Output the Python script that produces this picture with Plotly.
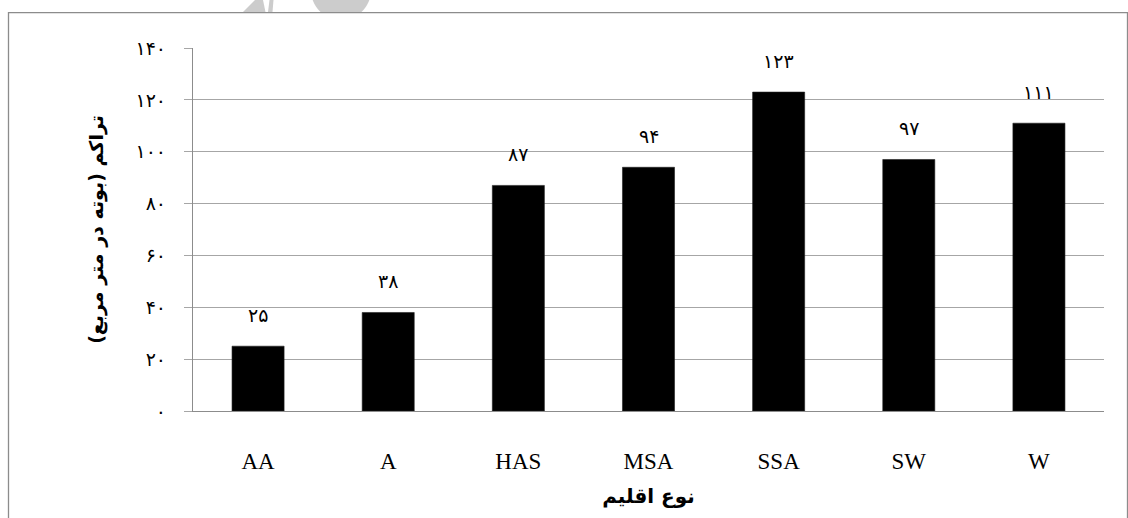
import math
import plotly.graph_objects as go

# Climate types and plant density (plants per square metre)
climates = ["AA", "A", "HAS", "MSA", "SSA", "SW", "W"]
density = [25, 38, 87, 94, 123, 97, 111]
density_labels = ["۲۵", "۳۸", "۸۷", "۹۴", "۱۲۳", "۹۷", "۱۱۱"]

y_tickvals = [0, 20, 40, 60, 80, 100, 120, 140]
y_ticktext = ["۰", "۲۰", "۴۰", "۶۰", "۸۰", "۱۰۰", "۱۲۰", "۱۴۰"]

W, H = 1128, 518
L, R, T, B = 193, 24, 48, 107
PW, PH = W - L - R, H - T - B


def px(x):
    return (x - L) / PW


def py(y):
    return (H - B - y) / PH


fig = go.Figure()
fig.add_trace(go.Bar(
    x=climates,
    y=density,
    marker=dict(color="#000000", line=dict(color="#202020", width=0.6)),
    width=0.4,
    hoverinfo="skip",
))

for c, v, t in zip(climates, density, density_labels):
    fig.add_annotation(
        x=c, y=v, text=t, showarrow=False, yshift=31, yanchor="middle",
        font=dict(family="DejaVu Sans", size=19, color="#000000"),
    )

shapes = []
# outer frame
shapes.append(dict(
    type="rect", xref="paper", yref="paper",
    x0=px(8.5), x1=px(1127.5), y0=py(540), y1=py(12.7),
    line=dict(color="#8c8c8c", width=1.3), fillcolor="rgba(0,0,0,0)",
    layer="below",
))
# faded logo fragments above the frame
wedge = [(243, 12.0), (255, 0), (263, 0), (265.5, 12.0)]
shapes.append(dict(
    type="path", xref="paper", yref="paper",
    path="M " + " L ".join(f"{px(a):.5f},{py(b):.5f}" for a, b in wedge) + " Z",
    fillcolor="#cccccc", line=dict(width=0), layer="above",
))
sliver = [(268, 12.0), (269.5, 0), (273.5, 0), (272.5, 12.0)]
shapes.append(dict(
    type="path", xref="paper", yref="paper",
    path="M " + " L ".join(f"{px(a):.5f},{py(b):.5f}" for a, b in sliver) + " Z",
    fillcolor="#cccccc", line=dict(width=0), layer="above",
))
cx, cy, r = 341, -10, 30
ytop, ybot = 0, 12.0
hw_top = math.sqrt(r * r - (ytop - cy) ** 2)
pts = [(cx - hw_top, ytop), (cx + hw_top, ytop)]
steps = 12
for i in range(steps + 1):
    yy = ytop + (ybot - ytop) * i / steps
    pts.append((cx + math.sqrt(r * r - (yy - cy) ** 2), yy))
for i in range(steps, -1, -1):
    yy = ytop + (ybot - ytop) * i / steps
    pts.append((cx - math.sqrt(r * r - (yy - cy) ** 2), yy))
shapes.append(dict(
    type="path", xref="paper", yref="paper",
    path="M " + " L ".join(f"{px(a):.5f},{py(b):.5f}" for a, b in pts) + " Z",
    fillcolor="#cccccc", line=dict(width=0), layer="above",
))

fig.update_layout(
    width=W, height=H,
    margin=dict(l=L, r=R, t=T, b=B, pad=0),
    paper_bgcolor="#ffffff", plot_bgcolor="#ffffff",
    showlegend=False,
    bargap=0.6,
    shapes=shapes,
    xaxis=dict(
        type="category",
        showgrid=False,
        showline=True, linecolor="#8c8c8c", linewidth=1.3,
        ticks="", ticklabelstandoff=29,
        tickfont=dict(family="Liberation Serif", size=23, color="#000000"),
        title=dict(
            text="<b>نوع اقلیم</b>", standoff=16,
            font=dict(family="DejaVu Sans", size=20, color="#000000"),
        ),
    ),
    yaxis=dict(
        range=[0, 140],
        tickvals=y_tickvals, ticktext=y_ticktext,
        showgrid=True, gridcolor="#a6a6a6", gridwidth=1.2,
        showline=True, linecolor="#8c8c8c", linewidth=1.3,
        ticks="outside", ticklen=8, tickcolor="#a6a6a6", tickwidth=1.2,
        ticklabelstandoff=14,
        zeroline=False,
        tickfont=dict(family="DejaVu Sans", size=19, color="#000000"),
        title=dict(
            text="<b>تراکم (بوته در متر مربع)</b>", standoff=26,
            font=dict(family="DejaVu Sans", size=19, color="#000000"),
        ),
    ),
)

fig.write_html("out.html")
